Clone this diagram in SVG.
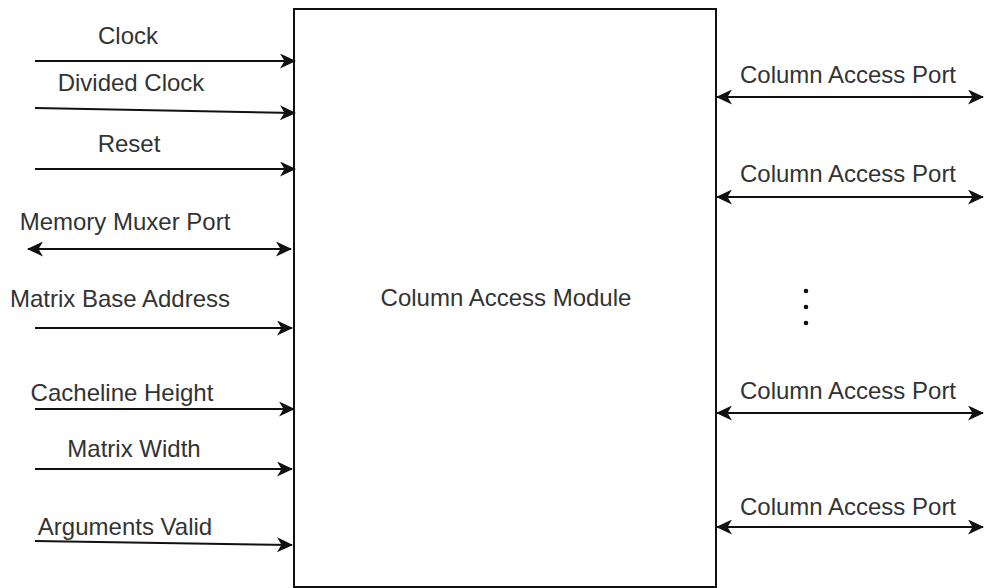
<svg xmlns="http://www.w3.org/2000/svg" width="984" height="588" viewBox="0 0 984 588">
<style>
text{font-family:"Liberation Sans",Arial,sans-serif;font-size:24px;fill:#333;text-anchor:middle}
.w{stroke:#111;stroke-width:2;fill:none}
.box{fill:#fff;stroke:#111;stroke-width:2}
</style>
<defs>
<marker id="ah" viewBox="0 0 16 15" refX="15" refY="7.5" markerWidth="16" markerHeight="15" markerUnits="userSpaceOnUse" orient="auto-start-reverse">
<path d="M0,0 L16,7.5 L0,15 L4.5,7.5 Z" fill="#111"/>
</marker>
</defs>
<g id="module">
<rect class="box" x="294" y="9" width="422" height="578"/>
<text x="506" y="306">Column Access Module</text>
</g>
<g id="connectors">
<line class="w" x1="35" y1="61" x2="295" y2="61" marker-end="url(#ah)"/>
<line class="w" x1="35" y1="108" x2="295" y2="113" marker-end="url(#ah)"/>
<line class="w" x1="35" y1="169" x2="295" y2="169" marker-end="url(#ah)"/>
<line class="w" x1="28" y1="249" x2="291" y2="249" marker-start="url(#ah)" marker-end="url(#ah)"/>
<line class="w" x1="35" y1="328" x2="292" y2="328" marker-end="url(#ah)"/>
<line class="w" x1="35" y1="409" x2="294" y2="409" marker-end="url(#ah)"/>
<line class="w" x1="35" y1="469" x2="292" y2="469" marker-end="url(#ah)"/>
<line class="w" x1="35" y1="541" x2="292" y2="545" marker-end="url(#ah)"/>
<line class="w" x1="717" y1="97" x2="983" y2="97" marker-start="url(#ah)" marker-end="url(#ah)"/>
<line class="w" x1="717" y1="197" x2="983" y2="197" marker-start="url(#ah)" marker-end="url(#ah)"/>
<line class="w" x1="717" y1="413" x2="983" y2="413" marker-start="url(#ah)" marker-end="url(#ah)"/>
<line class="w" x1="717" y1="527" x2="983" y2="527" marker-start="url(#ah)" marker-end="url(#ah)"/>
</g>
<g id="labels-in">
<text x="128" y="44">Clock</text>
<text x="131" y="91">Divided Clock</text>
<text x="129" y="152">Reset</text>
<text x="125" y="230">Memory Muxer Port</text>
<text x="120" y="307">Matrix Base Address</text>
<text x="122" y="401">Cacheline Height</text>
<text x="134" y="457">Matrix Width</text>
<text x="125" y="535">Arguments Valid</text>
</g>
<g id="labels-out">
<text x="848" y="83">Column Access Port</text>
<text x="848" y="182">Column Access Port</text>
<text x="848" y="399">Column Access Port</text>
<text x="848" y="515">Column Access Port</text>
</g>
<g id="ellipsis" fill="#111">
<circle cx="806" cy="291" r="2.3"/>
<circle cx="806" cy="307" r="2.3"/>
<circle cx="806" cy="323" r="2.3"/>
</g>
</svg>
